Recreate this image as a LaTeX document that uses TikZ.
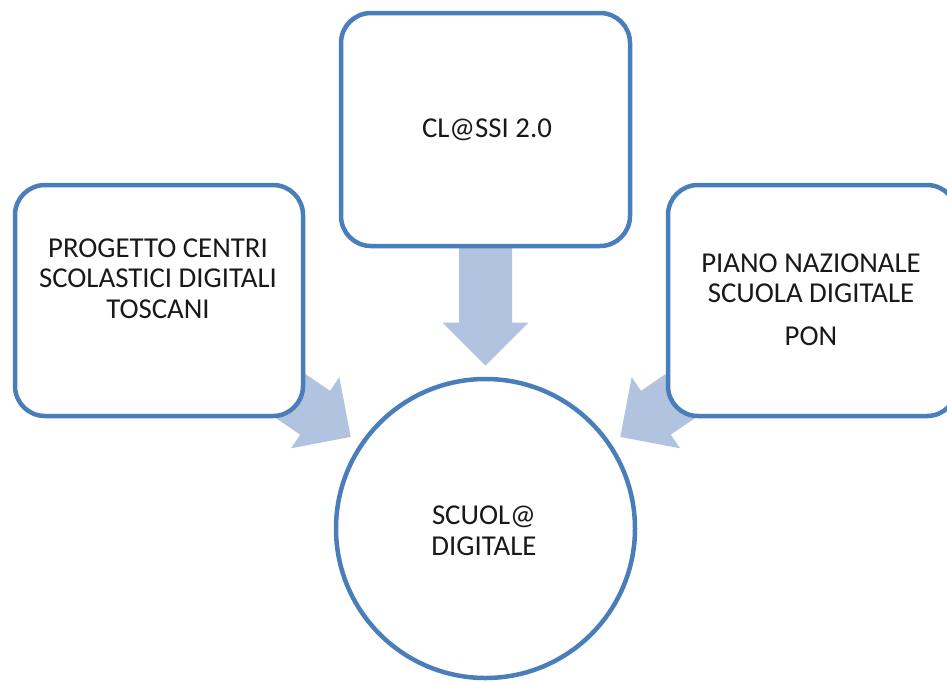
\documentclass[tikz,border=0pt]{standalone}
\usepackage{fontspec}
\setmainfont{Carlito}
\usetikzlibrary{calc}
\definecolor{edgeblue}{HTML}{4A7EBB}
\definecolor{arrowfill}{HTML}{B1C3DE}
\newcommand\blockarrow[2]{%
  \fill[arrowfill, shift={(#1)}, rotate=#2]
    (0,0) -- (-43,-43) -- (-43,-26.5) -- (-120,-26.5) -- (-120,26.5)
    -- (-43,26.5) -- (-43,43) -- cycle;}
\begin{document}
\begin{tikzpicture}[x=1pt,y=-1pt,
  boxshape/.style={draw=edgeblue, line width=4.5pt, fill=white,
    rounded corners=30pt, inner sep=0pt},
  circshape/.style={draw=edgeblue, line width=4.5pt, fill=white,
    circle, inner sep=0pt, minimum size=299pt},
  lbl/.style={font=\fontsize{28.8pt}{30.5pt}\selectfont, align=center,
    anchor=base, inner sep=0pt, text=black!90}]
\useasboundingbox (0,0) rectangle (947,681);
\clip (0,0) rectangle (947,681);
\node[circshape] (C) at (485.5,528.5) {};
\coordinate (tipL) at ($(C.center)+(214.2:163)$);
\coordinate (tipT) at ($(C.center)+(270:163)$);
\coordinate (tipR) at ($(C.center)+(325.8:163)$);
\blockarrow{tipL}{-34.2}
\blockarrow{tipT}{-90}
\blockarrow{tipR}{-145.8}
\node[boxshape, minimum width=288pt, minimum height=231pt] (L) at (159,300.5) {};
\node[boxshape, minimum width=289pt, minimum height=233pt] (T) at (485.5,129.5) {};
\node[boxshape, minimum width=289pt, minimum height=231pt] (R) at (812.5,300.5) {};
\node[lbl] (tL) at (158,318) {PROGETTO CENTRI\\SCOLASTICI DIGITALI\\TOSCANI};
\node[lbl] (tT) at (487,137) {CL@SSI 2.0};
\node[lbl] (tR) at (811,345) {PIANO NAZIONALE\\SCUOLA DIGITALE\\[12pt]PON};
\node[lbl] (tC) at (484,555) {SCUOL@\\DIGITALE};
\end{tikzpicture}
\end{document}
